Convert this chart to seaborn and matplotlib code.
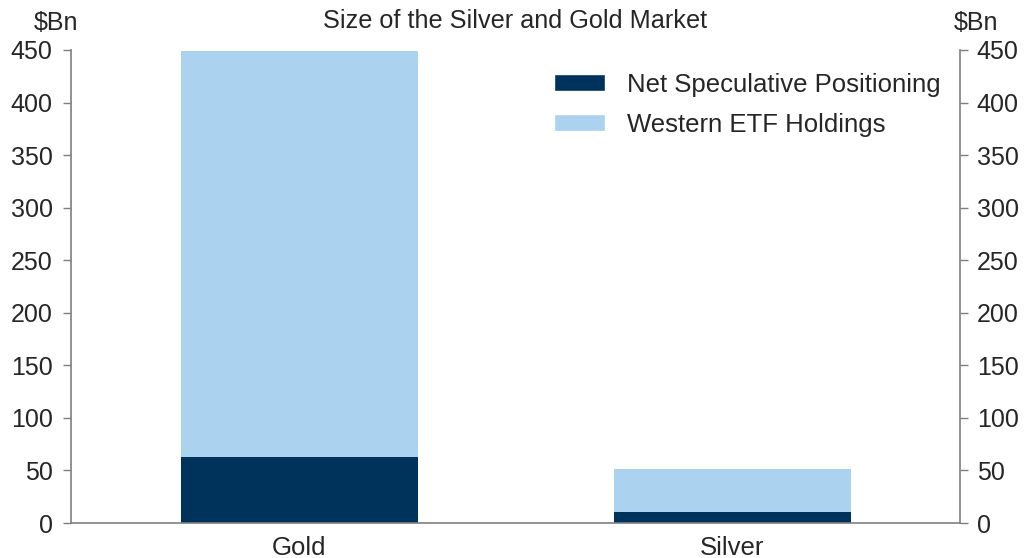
import matplotlib
matplotlib.use("Agg")
import matplotlib.pyplot as plt
import seaborn as sns
import pandas as pd
from matplotlib.patches import Patch

categories = ["Gold", "Silver"]
net_spec = [62.8, 10.5]
etf_holdings = [385.8, 40.9]
y_ticks = [0, 50, 100, 150, 200, 250, 300, 350, 400, 450]

sns.set_theme(style="white")
plt.rcParams["font.family"] = ["Liberation Sans", "DejaVu Sans"]

dark = "#00335C"
light = "#ABD2EF"
grey = "#7F7F7F"

df = pd.DataFrame({"cat": categories, "net": net_spec, "etf": etf_holdings})
df["total"] = df["net"] + df["etf"]

fig = plt.figure(figsize=(10.3, 5.58), dpi=100)
ax = fig.add_axes([0.0694, 0.0627, 0.8628, 0.8477])

sns.barplot(data=df, x="cat", y="total", color=light, saturation=1, width=0.548,
            linewidth=0, ax=ax)
sns.barplot(data=df, x="cat", y="net", color=dark, saturation=1, width=0.548,
            linewidth=0, ax=ax)

ax.set_xlim(-0.527, 1.527)
ax.set_ylim(0, 450)
ax.set_yticks(y_ticks)
ax.set_yticklabels([str(t) for t in y_ticks], fontsize=18)
ax.set_xlabel("")
ax.set_ylabel("")
ax.set_xticks([0, 1])
ax.set_xticklabels(categories, fontsize=18.5)
ax.tick_params(axis="x", length=0, pad=9)
ax.set_xticks([0.5], minor=True)
ax.tick_params(axis="x", which="minor", length=5, color=grey, width=1, direction="out")
ax.tick_params(axis="y", length=6, color=grey, width=1, direction="out", pad=7.5, left=True)

for s in ["top", "right"]:
    ax.spines[s].set_visible(False)
for s in ["left", "bottom"]:
    ax.spines[s].set_color(grey)
    ax.spines[s].set_linewidth(1.2)

ax2 = ax.twinx()
ax2.set_ylim(0, 450)
ax2.set_yticks(y_ticks)
ax2.set_yticklabels([str(t) for t in y_ticks], fontsize=18)
ax2.tick_params(axis="y", length=6, color=grey, width=1, direction="out", pad=6, right=True)
for s in ["top", "left", "bottom"]:
    ax2.spines[s].set_visible(False)
ax2.spines["right"].set_color(grey)
ax2.spines["right"].set_linewidth(1.2)
ax2.grid(False)

fig.text(0.5, 0.963, "Size of the Silver and Gold Market", ha="center", va="center", fontsize=18.2)
fig.text(0.054, 0.958, "$Bn", ha="center", va="center", fontsize=18)
fig.text(0.948, 0.958, "$Bn", ha="center", va="center", fontsize=18)

handles = [Patch(facecolor=dark, label="Net Speculative Positioning"),
           Patch(facecolor=light, label="Western ETF Holdings")]
ax.legend(handles=handles, loc="upper left", bbox_to_anchor=(0.543, 0.952),
          frameon=False, fontsize=18.5, handlelength=2.0, handleheight=0.66,
          handletextpad=0.85, labelspacing=0.62, borderaxespad=0, borderpad=0)

fig.savefig("out.png", dpi=100)
